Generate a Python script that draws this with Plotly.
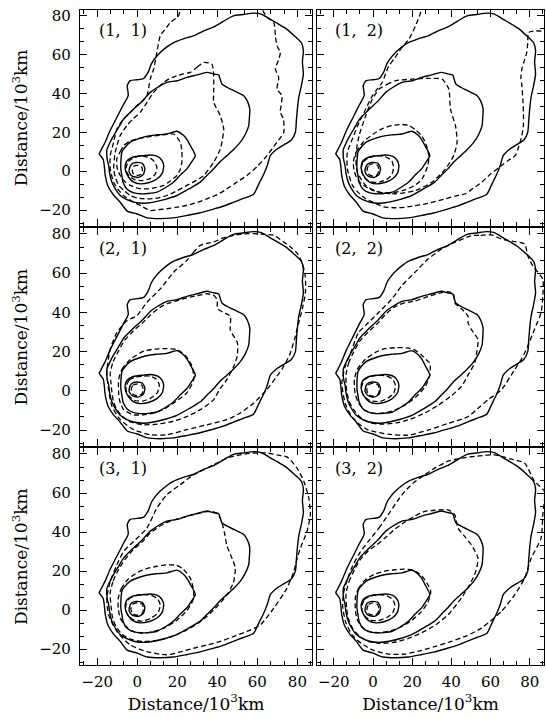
import plotly.graph_objects as go
from plotly.subplots import make_subplots

# ---------------- data (units: 10^3 km) ----------------
X_TICKS = [-20, 0, 20, 40, 60, 80]
Y_TICKS = [-20, 0, 20, 40, 60, 80]
PANEL_LABELS = ["(1,\u00a0\u00a01)", "(1,\u00a0\u00a02)", "(2,\u00a0\u00a01)",
                "(2,\u00a0\u00a02)", "(3,\u00a0\u00a01)", "(3,\u00a0\u00a02)"]
AXIS_TITLE = "Distance/10<sup>3</sup>km"

# solid (observed) contours, identical in every panel
SOLID_1 = [(-18.5, 10), (-16, 15), (-13.5, 21), (-10, 28), (-7, 34), (-4.5, 39), (-5, 44),
           (-3.5, 46.5), (0, 47), (3, 47.5), (5.5, 51), (7, 55), (8.5, 57.5), (11.5, 61),
           (15, 64), (18, 66), (23, 68), (28, 69.5), (33, 72), (38, 74), (43, 77), (48, 79.8),
           (53, 80.5), (58, 81.2), (62, 80.7), (66.5, 78), (70, 76), (74, 73.5), (78, 70),
           (82, 66), (83, 62), (82.5, 56), (83, 50), (82, 44), (80.7, 38), (80, 32),
           (79.5, 26), (79, 20), (77, 16), (74, 14), (70, 11.5), (66.5, 8), (65, 3), (63, -2),
           (61, -6), (58, -12), (53, -14), (48, -16), (43, -18), (38, -19.5), (31, -21.5),
           (25, -22.7), (18, -24), (11.5, -24.4), (5, -24), (0, -22), (-5, -20.5),
           (-8.5, -16), (-12, -12), (-14.5, -8), (-16, -2), (-16.5, 3), (-17, 6), (-19, 9),
           (-18.5, 10)]
SOLID_2 = [(-15.2, 11), (-13.5, 15), (-11.8, 18.3), (-9, 23), (-6.8, 26.8), (-1.8, 32),
           (2.5, 36), (6.5, 40.5), (10, 43), (14.8, 45.6), (20, 46.5), (24.8, 48.2),
           (30, 49.5), (34.8, 50.8), (38, 50), (40.7, 49.4), (41.5, 47), (42.3, 44.8),
           (45, 43), (48.2, 41.4), (53.2, 38.8), (55, 36), (56.2, 32), (56, 27), (55.7, 23.4),
           (54, 19), (51.5, 14.9), (48, 11), (44.8, 8), (41, 4.5), (38.2, 1.2), (35, -2),
           (31.5, -5.6), (26, -9), (19.8, -12.5), (14, -14.5), (8.2, -15.9), (3, -16.5),
           (-1.8, -15.9), (-5.5, -14.5), (-8.5, -12.5), (-11, -9), (-12.7, -5.6),
           (-13.8, -1), (-14.3, 3), (-15, 6), (-15.2, 8), (-15.2, 11)]
SOLID_3 = [(-7.7, 9.7), (-6.8, 11.4), (-3.5, 14.9), (1.5, 17), (6.5, 18.3), (10, 18.7),
           (14.8, 19.1), (19.8, 20.5), (23.2, 18.3), (25, 16), (26.5, 13.2), (29, 8),
           (27, 4.5), (24.8, 1.2), (21.5, -2), (18.2, -5.6), (14, -8.5), (9.8, -10.8),
           (5.5, -11.5), (1.5, -11.6), (-2, -11), (-5.2, -9.1), (-7, -6), (-7.7, -2.2),
           (-8.2, 1), (-8.2, 4.6), (-8, 7.5), (-7.7, 9.7)]
SOLID_4 = [(-6, 3), (-5, 5.5), (-2, 7.3), (3.2, 8), (6.5, 8.3), (9.8, 7.7), (12, 6),
           (13.2, 3), (12.5, -1), (9.8, -4), (6, -5.8), (1.5, -6.5), (-2, -5.5), (-4.3, -3.1),
           (-5.8, 0), (-6, 3)]
SOLID_5 = [(-4, 1), (-3, 3.5), (-0.5, 4.5), (2.5, 4), (3.8, 1.5), (3, -1.8), (0.5, -3.2),
           (-2.5, -2.5), (-4, -0.5), (-4, 1)]

# dashed (model) contours, panel (1, 1)
DASH_11_1 = [(22, 90), (20.7, 80), (16.5, 76.4), (14.8, 74), (11.5, 69.6), (9.8, 61),
             (8.2, 52.5), (6.5, 47.3), (4.8, 38.8), (1.5, 35), (-0.2, 33.7), (-3.5, 30),
             (-6.8, 26.8), (-10.2, 21.7), (-11.8, 14.9), (-13.5, 8), (-13.5, 1.2),
             (-11.8, -5.6), (-9.5, -9.5), (-6.8, -12.5), (-2.5, -15.5), (1.5, -17.6),
             (6.5, -20.2), (10.5, -19.8), (14.8, -19.3), (20, -18.5), (24.8, -17.6),
             (30, -16), (34.8, -14.2), (40, -12), (44.8, -9.1), (50, -5.5), (54.8, -2.2),
             (60, 2.5), (64.8, 8), (69.8, 14.9), (73.2, 20), (73, 26.8), (71.5, 30.3),
             (72.3, 38.8), (69.8, 42.2), (70.7, 48), (69, 52.5), (70.5, 57), (71.5, 61),
             (69.8, 64.5), (69, 69.6), (68.2, 76.4), (65, 79), (63, 82), (60, 90)]
DASH_11_2 = [(26.5, 50.8), (30, 53.5), (33.2, 55.9), (37.3, 55), (38.2, 49), (38.2, 42),
             (38.2, 35.4), (41.5, 28.5), (43.2, 21.7), (42.5, 16), (41.5, 11.4), (38.2, 4.6),
             (33.2, -2.2), (29, -5), (24.8, -7.3), (20, -10), (14.8, -12.5), (10, -13.8),
             (4.8, -14.2), (0, -13.8), (-3.5, -12.5), (-6.5, -10), (-9.3, -7.3), (-11, -3),
             (-11.8, 1.2), (-11, 9.7), (-8.5, 18.3), (-5.2, 23.4), (-2, 27), (1.5, 30.3),
             (5, 35.5), (8.2, 40.5), (13.2, 45.6), (16, 47.5), (19.8, 49), (23, 50),
             (26.5, 50.8)]
DASH_11_3 = [(-10.2, 6.3), (-8.5, 10), (-6.8, 13.2), (-3.5, 15.5), (-0.2, 16.6), (4.5, 17.5),
             (9.8, 18.3), (14, 18.8), (18.2, 19.1), (21.5, 14.9), (22.3, 10), (22.3, 4.6),
             (21.5, 1), (19.8, -2.2), (16.5, -5), (13.2, -7.3), (9, -8.5), (4.8, -9.1),
             (0.5, -8.8), (-3.5, -7.3), (-6.5, -5), (-8.5, -2.2), (-9.8, 0.5), (-10.2, 3),
             (-10.2, 6.3)]
DASH_11_4 = [(-5.5, 2), (-4.5, 5), (-1.5, 7), (2, 7.8), (5.5, 7.2), (8.5, 5), (9.8, 2),
             (9, -1.5), (6.5, -3.8), (2.5, -4.8), (-1, -4.5), (-4, -2.5), (-5.5, 0), (-5.5, 2)]
DASH_11_5 = [(-2.5, 0.5), (-1.8, 2.5), (0, 3), (2, 2.4), (2.6, 0.5), (2, -1.5), (0, -2.2),
             (-1.8, -1.5), (-2.5, 0.5)]

# panel (1, 2)
DASH_12_1 = [(26, 90), (24.3, 81.5), (21.7, 74.7), (18.3, 67.8), (14.1, 62.7), (11, 58),
             (8.1, 54.2), (4.7, 45.6), (2, 42), (-0.3, 38.8), (-3.7, 32), (-7.1, 25.1),
             (-10.5, 16.6), (-13.1, 9.7), (-13.1, 1.2), (-10.5, -7.3), (-7.5, -11),
             (-3.7, -14.2), (1, -16.5), (6.5, -18.5), (11, -18.8), (16.6, -18.5), (21, -17.8),
             (26.8, -16.8), (32, -15.5), (37, -14.2), (42, -12.8), (47.2, -11.6),
             (51.5, -8.5), (55.6, -5.6), (60, -1.5), (65.8, 3), (69, 5.5), (72.6, 8),
             (74.5, 13), (76, 18.3), (76.8, 24), (76.8, 30.3), (76.5, 37), (76, 44),
             (75.5, 48), (76, 52.5), (77, 56), (78.5, 61), (79, 66), (79.4, 71.3),
             (82.8, 72.1), (86, 72), (92, 72)]
DASH_12_2 = [(3.1, 42.2), (7, 44.5), (11.6, 46.5), (20, 47.3), (28.5, 47.7), (35.3, 47.3),
             (38.7, 42.2), (39.5, 32), (42.1, 23.4), (42.9, 14.9), (41.2, 8), (37, 1.2),
             (30.2, -5.6), (21.7, -9.9), (11.6, -11.6), (3.1, -10.8), (-3.7, -7.3),
             (-8, -0.5), (-8.8, 8), (-7.1, 18.3), (-3.7, 28.5), (-0.3, 37.1), (3.1, 42.2)]
DASH_12_3 = [(-10, 5), (-8.5, 10), (-5, 15), (0, 19), (5, 22), (10, 23.5), (15, 24),
             (18.5, 23.4), (22, 21), (25, 18), (27, 14), (28.5, 8), (28, 3), (25.1, -3.9),
             (21, -7.5), (15, -10), (9, -11.2), (3, -10.8), (-2, -9), (-6, -6.5), (-8.5, -3),
             (-9.8, 1), (-10, 5)]
DASH_12_4 = [(-6, 1.5), (-5, 4.8), (-2, 7), (2, 8), (6, 7.5), (9.5, 5.5), (10.5, 2),
             (9.5, -2), (6.5, -4.5), (2, -5.8), (-2, -5.2), (-4.8, -2.8), (-6, 1.5)]
DASH_12_5 = [(-3, 0.8), (-2.2, 3), (0, 3.8), (2.3, 3), (3, 0.5), (2.2, -1.8), (0, -2.5),
             (-2.2, -1.6), (-3, 0.8)]

# panel (2, 1)
DASH_21_1 = [(24.8, 66.5), (28, 70.5), (31.5, 74.2), (38.2, 75.9), (43, 78), (48.2, 79.3),
             (53, 80), (58.2, 80.2), (63, 79.8), (68.2, 79.3), (73, 76), (77, 73), (80, 70),
             (82.5, 65), (84, 58), (84, 50), (82.5, 42), (80.5, 34), (78.5, 26), (76, 18),
             (72.5, 11.5), (69.8, 7.5), (64.8, 0.7), (58.2, -6.2), (51.5, -11.3),
             (44.8, -14.7), (34.8, -17.3), (24.8, -19.8), (14.8, -22.4), (6.5, -22.4),
             (-1.8, -19.8), (-8.5, -14.7), (-12.7, -7.8), (-14.3, 0.7), (-15.2, 9.2),
             (-13.5, 21.2), (-10.2, 29.7), (-5.2, 35.7), (-0.2, 38.3), (4.8, 45.1),
             (11.5, 52), (18.2, 60.5), (24.8, 66.5)]
DASH_21_2 = [(-13.5, 9), (-12, 15), (-9.5, 20), (-6.5, 25.5), (-2, 30.5), (2.5, 34.5),
             (6.5, 38.5), (10.5, 42), (15, 44.5), (20, 46), (25, 47.5), (30, 48.5),
             (35, 49.5), (38.5, 48.5), (40, 46), (40, 42), (43, 40), (46.5, 38), (46.5, 31),
             (50, 24.6), (50, 18), (48, 12), (44.8, 5.8), (41, 0.5), (38.2, -4.5),
             (31.5, -9.6), (25, -13), (18, -15.5), (10, -17), (3, -17.3), (-3, -16),
             (-7.5, -13), (-10.5, -9), (-12, -5), (-12.8, 0.5), (-13.2, 5), (-13.5, 9)]
DASH_21_3 = [(-9.3, 5.8), (-7.7, 10.9), (-3.5, 16), (3.2, 20.3), (9, 21.3), (15, 21.5),
             (20, 21), (24, 18), (27.3, 12.7), (28.2, 5.8), (24.8, -1), (18.2, -6.2),
             (13, -9.5), (8.2, -11.3), (3, -12.2), (-1.8, -12.2), (-6.8, -9.6), (-8.8, -5),
             (-9.3, -1), (-9.3, 5.8)]
DASH_21_4 = [(-5.5, 2.5), (-4, 5.5), (-1, 7), (3, 7.5), (6.5, 7.5), (9.5, 6), (11, 3),
             (10, -1), (7, -3.5), (2.5, -5.3), (-1.5, -4.8), (-4.3, -2.5), (-5.5, 0),
             (-5.5, 2.5)]
DASH_21_5 = [(-3, 0.5), (-2.2, 2.8), (0, 3.5), (2.3, 2.8), (3, 0.5), (2.2, -1.7), (0, -2.5),
             (-2.2, -1.7), (-3, 0.5)]

# panel (2, 2)
DASH_22_1 = [(50.2, 79.1), (55, 79.3), (60.4, 79.5), (65.5, 77.4), (71, 76.3), (77.4, 74.9),
             (79, 68.9), (81.6, 63.7), (86.7, 56.9), (86.7, 48.4), (85.8, 39.8), (82.4, 31.3),
             (79, 22.7), (76, 16.5), (72.3, 10.8), (65.5, 0.5), (58.7, -4.6), (53.5, -9),
             (48.5, -13.2), (38.3, -16.6), (28.1, -20), (18, -22.6), (7.8, -22.1),
             (-2.4, -20), (-7, -17), (-10.8, -13.2), (-14.2, -6.3), (-15.9, 3.9),
             (-14.2, 12.5), (-10.8, 21), (-7.5, 29.6), (-2.4, 34.7), (2.7, 39.8),
             (9.5, 46.7), (14.6, 53.5), (21.4, 60.4), (28.1, 67.2), (35, 72.3), (41.7, 75.7),
             (50.2, 79.1)]
DASH_22_2 = [(-13.8, 8), (-12.5, 14), (-10, 19.5), (-7, 25), (-2.5, 30), (2, 34), (6, 38.5),
             (10.5, 42.5), (15, 44.5), (21.4, 45.8), (28, 48), (35, 50.1), (38.5, 50.5),
             (41, 49.5), (42, 44.5), (45, 42), (48.5, 38), (48.5, 34.7), (50.2, 31.3),
             (53.6, 26.2), (53, 20), (51.9, 14.2), (48.5, 8), (45.1, 2.2), (40, -2.5),
             (33, -7.5), (26, -11.5), (19, -14.5), (12, -16.3), (5, -17), (-1.5, -16.3),
             (-6.5, -13.5), (-10, -9.5), (-12.3, -5), (-13.5, 0.5), (-13.8, 8)]
DASH_22_3 = [(-9.5, 6), (-8, 11), (-4, 16), (1, 19.5), (6, 21.5), (12, 22), (17, 21.9),
             (21, 21), (24.5, 18.5), (27, 16), (29, 14.2), (29, 8), (26.5, 2), (22, -3),
             (17.5, -6.5), (12, -9.5), (6, -11.2), (0.5, -11.5), (-4, -10), (-7.2, -6.5),
             (-9, -2), (-9.5, 2), (-9.5, 6)]
DASH_22_4 = [(-5.8, 2.3), (-4.5, 5.5), (-1.5, 7.3), (2.5, 8), (6.5, 7.6), (10, 6),
             (11.5, 2.5), (10.5, -1.2), (7.5, -3.8), (3, -5.5), (-1.5, -5), (-4.5, -2.8),
             (-5.8, 0), (-5.8, 2.3)]
DASH_22_5 = [(-3.2, 0.5), (-2.3, 3), (0, 3.8), (2.5, 3), (3.3, 0.5), (2.4, -1.9),
             (0, -2.7), (-2.3, -1.9), (-3.2, 0.5)]

# panel (3, 1)
DASH_31_1 = [(-1.8, 35.2), (4.8, 42), (9.8, 52.3), (14.8, 59.1), (21.5, 64.3), (28.2, 69.4),
             (38.2, 74.5), (44.8, 77.9), (51.5, 79.6), (58, 80.5), (64.8, 80.5), (70, 79.5),
             (74.8, 78.5), (79.8, 72.8), (83.2, 66), (85.7, 57.4), (86.5, 48.9),
             (84.8, 40.4), (81.5, 31.8), (79.5, 25), (78.2, 19.8), (74.8, 11.3), (68.2, 1),
             (61.5, -7.5), (54.8, -10.9), (48, -13.5), (41.5, -16), (35, -17.8),
             (28.2, -19.5), (21, -21.5), (14.8, -22.9), (4.8, -21.2), (-3.5, -17.8),
             (-10.2, -10.9), (-14.3, -2.4), (-15.2, 6.2), (-13.5, 14.7), (-10.2, 23.2),
             (-6.8, 30.1), (-1.8, 35.2)]
DASH_31_2 = [(-13.5, 9), (-12, 15), (-9.5, 20.5), (-6.5, 25.5), (-2, 31), (2.5, 35),
             (6.5, 39.5), (10.5, 42.5), (15, 45), (20, 46.8), (25, 48), (30, 49.5),
             (35, 50.5), (39, 50), (41, 48), (42.5, 44), (43.5, 40), (44.8, 33), (47.3, 26.7),
             (49, 21.5), (48, 14), (44.8, 7.8), (40, 2), (35, -3), (30, -7), (24, -10.5),
             (17, -13.5), (10, -15.5), (3, -16), (-3, -15), (-7.5, -12.5), (-10.5, -8.5),
             (-12.3, -4), (-13, 1), (-13.5, 9)]
DASH_31_3 = [(-9.5, 6), (-8, 11), (-4.5, 16), (0.5, 19.5), (5.5, 21.5), (10, 22.5),
             (15, 23.2), (19.5, 23), (23, 21), (26.5, 16.4), (28.2, 10), (28, 5.5), (25, 0),
             (20, -5), (14, -8.8), (8, -11), (2, -11.8), (-3, -10.5), (-6.5, -7.5),
             (-8.7, -3.5), (-9.5, 1), (-9.5, 6)]
DASH_31_4 = [(-5.7, 2.5), (-4.3, 5.6), (-1.2, 7.4), (3, 8), (7, 7.6), (10.2, 5.8),
             (11.5, 2.5), (10.3, -1.5), (7, -4), (2.5, -5.6), (-1.8, -5), (-4.6, -2.7),
             (-5.7, 0), (-5.7, 2.5)]
DASH_31_5 = [(-3.2, 0.8), (-2.4, 3), (0, 3.8), (2.4, 3.1), (3.2, 0.6), (2.3, -1.8),
             (0, -2.6), (-2.3, -1.8), (-3.2, 0.8)]

# panel (3, 2)
DASH_32_1 = [(-2.4, 35.2), (3, 42), (8.5, 50), (12.5, 56), (16.3, 60.9), (21, 65.5),
             (26.5, 69.4), (32, 73), (38.3, 76.3), (45, 77.8), (51.9, 78.8), (57, 79.3),
             (62.1, 79.6), (70, 77.5), (77.4, 75.4), (82.4, 66), (87.5, 60.9), (86.7, 48.9),
             (85.8, 36.9), (80.8, 26.7), (77.4, 16.4), (72.3, 7.8), (65.5, -0.7),
             (55.3, -9.2), (48, -13), (40, -16), (32, -18.5), (24, -20.8), (16, -22.5),
             (8, -22.5), (0, -20.5), (-6, -17), (-10.8, -12.5), (-14, -6), (-15.5, 2),
             (-15, 9), (-13, 16), (-10.5, 22.5), (-7, 29), (-2.4, 35.2)]
DASH_32_2 = [(-13.8, 8.5), (-12.3, 14.5), (-9.8, 20), (-6.8, 25.5), (-2.3, 30.5), (2, 33.5),
             (6.1, 37), (11.2, 41.5), (16, 45), (21, 48), (26.5, 50.6), (32, 51.2),
             (38.3, 51.4), (41.7, 48.9), (43.4, 42), (47, 37.5), (50.2, 33.5), (53.6, 26.7),
             (52.5, 20), (50.2, 14.7), (45.1, 6.2), (38.3, -2.4), (32, -7.5), (25, -11.5),
             (18, -14.5), (10.5, -16.5), (3.5, -17), (-2.5, -16), (-7, -13.3), (-10.5, -9.2),
             (-12.5, -4.5), (-13.5, 1), (-13.8, 8.5)]
DASH_32_3 = [(-9, 6.5), (-7.5, 11), (-4, 15.5), (1, 18.5), (6, 20), (11, 20.7), (16, 21),
             (20.5, 20.5), (24.5, 18), (27.5, 14), (29.5, 9.5), (28, 4), (24.5, -1),
             (20, -5), (14.5, -8.5), (9, -10.5), (3, -11.5), (-2, -11), (-5.8, -8.5),
             (-8.2, -4.5), (-9, 0), (-9, 6.5)]
DASH_32_4 = [(-5.6, 2.2), (-4.4, 5.4), (-1.3, 7.3), (2.8, 8), (6.8, 7.4), (10, 5.6),
             (11.2, 2.3), (10, -1.4), (6.8, -3.9), (2.4, -5.4), (-1.7, -4.9), (-4.5, -2.6),
             (-5.6, 0), (-5.6, 2.2)]
DASH_32_5 = [(-3.1, 0.6), (-2.2, 2.9), (0, 3.7), (2.3, 2.9), (3.1, 0.5), (2.2, -1.8),
             (0, -2.5), (-2.2, -1.8), (-3.1, 0.6)]

SOLIDS = [SOLID_1, SOLID_2, SOLID_3, SOLID_4, SOLID_5]
DASHED = {
    (1, 1): [DASH_11_1, DASH_11_2, DASH_11_3, DASH_11_4, DASH_11_5],
    (1, 2): [DASH_12_1, DASH_12_2, DASH_12_3, DASH_12_4, DASH_12_5],
    (2, 1): [DASH_21_1, DASH_21_2, DASH_21_3, DASH_21_4, DASH_21_5],
    (2, 2): [DASH_22_1, DASH_22_2, DASH_22_3, DASH_22_4, DASH_22_5],
    (3, 1): [DASH_31_1, DASH_31_2, DASH_31_3, DASH_31_4, DASH_31_5],
    (3, 2): [DASH_32_1, DASH_32_2, DASH_32_3, DASH_32_4, DASH_32_5],
}

# ---------------- layout geometry ----------------
W, H = 546, 719
COL_PX = [(80, 312), (317, 544)]
ROW_PX = [(6.7, 224), (226, 445), (447, 665)]
X_RANGE = [-28.6, 87.3]
Y_RANGE = [-28.2, 83.0]
FONT = "DejaVu Serif"

fig = make_subplots(rows=3, cols=2)

for r in range(1, 4):
    for c in range(1, 3):
        for path in SOLIDS:
            fig.add_trace(go.Scatter(
                x=[p[0] for p in path], y=[p[1] for p in path], mode="lines",
                line=dict(color="black", width=1.4, shape="spline", smoothing=0.6),
                showlegend=False, hoverinfo="skip"), row=r, col=c)
        for path in DASHED[(r, c)]:
            fig.add_trace(go.Scatter(
                x=[p[0] for p in path], y=[p[1] for p in path], mode="lines",
                line=dict(color="black", width=1.3, dash="5px,3px", shape="spline",
                          smoothing=0.6),
                showlegend=False, hoverinfo="skip"), row=r, col=c)

annotations = []
for r in range(1, 4):
    for c in range(1, 3):
        idx = (r - 1) * 2 + c
        xa = "xaxis" if idx == 1 else f"xaxis{idx}"
        ya = "yaxis" if idx == 1 else f"yaxis{idx}"
        x0, x1 = COL_PX[c - 1]
        y0, y1 = ROW_PX[r - 1]
        common = dict(showline=True, linecolor="black", linewidth=1.4, mirror="ticks",
                      ticks="inside", ticklen=7, tickwidth=1.2, tickcolor="black",
                      showgrid=False, zeroline=False,
                      tickmode="linear", tick0=0, dtick=20,
                      tickfont=dict(family=FONT, size=15, color="black"),
                      minor=dict(ticks="inside", ticklen=4, tickwidth=1.1,
                                 tickcolor="black", tick0=0, dtick=20 / 3, showgrid=False))
        xtitle = dict(text=AXIS_TITLE, standoff=5,
                      font=dict(family=FONT, size=17, color="black")) if r == 3 else None
        ytitle = dict(text=AXIS_TITLE, standoff=7,
                      font=dict(family=FONT, size=17, color="black")) if c == 1 else None
        fig.layout[xa].update(domain=[x0 / W, x1 / W], range=X_RANGE,
                              showticklabels=(r == 3), ticklabelstandoff=3, **common)
        fig.layout[ya].update(domain=[1 - y1 / H, 1 - y0 / H], range=Y_RANGE,
                              showticklabels=(c == 1), ticklabelstandoff=5, **common)
        if xtitle:
            fig.layout[xa].title = xtitle
        if ytitle:
            fig.layout[ya].title = ytitle
        xref = "x" if idx == 1 else f"x{idx}"
        yref = "y" if idx == 1 else f"y{idx}"
        annotations.append(dict(text=PANEL_LABELS[idx - 1], xref=f"{xref} domain",
                                yref=f"{yref} domain", x=0.072, y=0.905, xanchor="left",
                                yanchor="middle", showarrow=False,
                                font=dict(family=FONT, size=16, color="black")))

fig.update_layout(width=W, height=H, margin=dict(l=0, r=0, t=0, b=0),
                  paper_bgcolor="white", plot_bgcolor="white",
                  annotations=annotations, showlegend=False)

fig.write_html("out.html")
